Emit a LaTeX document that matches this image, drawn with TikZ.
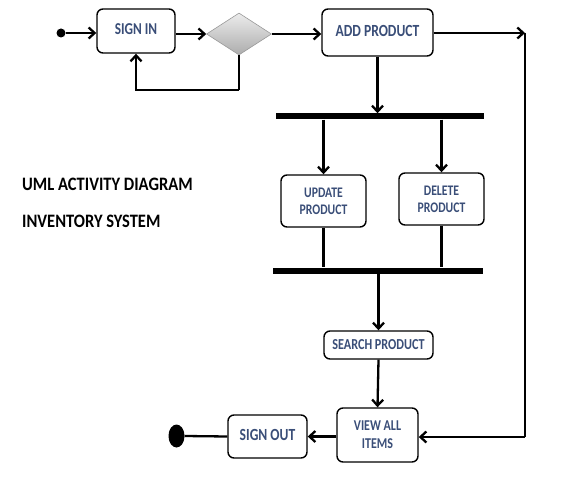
\documentclass[tikz,border=0pt]{standalone}
\usepackage{fontspec}
\usepackage{graphicx}
\setmainfont{Carlito}
\usetikzlibrary{arrows.meta,shapes.geometric}
\definecolor{nodetext}{RGB}{58,78,120}
\newcommand{\tx}[1]{\scalebox{1}[1.25]{#1}}
\newcommand{\txr}[1]{\raisebox{4pt}{\scalebox{1}[1.25]{#1}}}
\begin{document}
\begin{tikzpicture}[x=1pt,y=-1pt,
  act/.style={draw=black, line width=1.4pt, rounded corners=6pt, fill=white,
    inner sep=0pt, font=\fontsize{13.3}{15}\selectfont\bfseries, text=nodetext, align=center},
  conn/.style={line width=2.3pt},
  arr/.style={conn, -{Straight Barb[length=6pt,width=11pt,line width=2.3pt]}},
  bar/.style={fill=black, inner sep=0pt, minimum height=6pt},
  title/.style={anchor=west, font=\fontsize{16.5}{18}\selectfont\bfseries, inner sep=0pt}]
\useasboundingbox (0,0) rectangle (564,497);
% nodes
\node[circle, fill=black, inner sep=0pt, minimum size=9pt] (start) at (61,33) {};
\node[act, minimum width=78pt, minimum height=44pt] (signin) at (136,31) {\txr{SIGN IN}};
\node[diamond, draw=gray!80, line width=0.6pt, top color=gray!15, bottom color=gray!65,
  inner sep=0pt, minimum width=65pt, minimum height=42pt, aspect=1.55] (dec) at (239,34) {};
\node[act, minimum width=111pt, minimum height=47pt, font=\fontsize{13.6}{15}\selectfont\bfseries] (add) at (377.5,32.5) {\txr{ADD PRODUCT}};
\node[bar, minimum width=208pt] (fork) at (380,116.5) {};
\node[act, minimum width=85pt, minimum height=52pt, font=\fontsize{11.7}{17}\selectfont\bfseries] (upd) at (323.5,201) {\tx{UPDATE}\\\tx{PRODUCT}};
\node[act, minimum width=85pt, minimum height=52pt, font=\fontsize{11.7}{17}\selectfont\bfseries] (del) at (441.5,199) {\tx{DELETE}\\\tx{PRODUCT}};
\node[bar, minimum width=210pt] (join) at (378,270.5) {};
\node[act, minimum width=109pt, minimum height=28pt, font=\fontsize{12.2}{13}\selectfont\bfseries] (search) at (378.5,345) {\tx{SEARCH PRODUCT}};
\node[act, minimum width=81pt, minimum height=54pt, font=\fontsize{12}{18}\selectfont\bfseries] (view) at (377.5,435) {\tx{VIEW ALL}\\\tx{ITEMS}};
\node[act, minimum width=79pt, minimum height=43pt, font=\fontsize{13.6}{15}\selectfont\bfseries] (signout) at (267.5,436.5) {\txr{SIGN OUT}};
\node[ellipse, fill=black, inner sep=0pt, minimum width=16pt, minimum height=23pt] (endd) at (176.5,436) {};
\node[title] (t1) at (22,184) {\scalebox{1}[1.15]{UML ACTIVITY DIAGRAM}};
\node[title] (t2) at (22,221) {\scalebox{1}[1.15]{INVENTORY SYSTEM}};
% coordinates
\coordinate (loopy) at (0,90);
\coordinate (rt) at (525,33);
\coordinate (rb) at (525,437);
% connectors
\draw[arr] (start) -- (start -| signin.west);
\draw[arr] (signin.east |- dec) -- (dec.west);
\draw[conn] (dec.south) -- (dec.south |- loopy);
\draw[arr] (dec.south |- loopy) -| (signin.south);
\draw[arr] (dec.east) -- (dec.east -| add.west);
\draw[arr] (add.east |- rt) -- (rt);
\draw[conn] (rt) -- (rb);
\draw[arr] (rb) -- (rb -| view.east);
\draw[arr] (add.south) -- (add.south |- fork.north);
\draw[arr] (upd.north |- fork.south) -- (upd.north);
\draw[arr] (del.north |- fork.south) -- (del.north);
\draw[conn] (upd.south) -- (upd.south |- join.north);
\draw[conn] (del.south) -- (del.south |- join.north);
\draw[arr] (search.north |- join.south) -- (search.north);
\draw[arr] (search.south) -- (view.north);
\draw[arr] (view.west |- signout) -- (signout.east);
\draw[conn] (signout.west) -- (endd.east);
\end{tikzpicture}
\end{document}
